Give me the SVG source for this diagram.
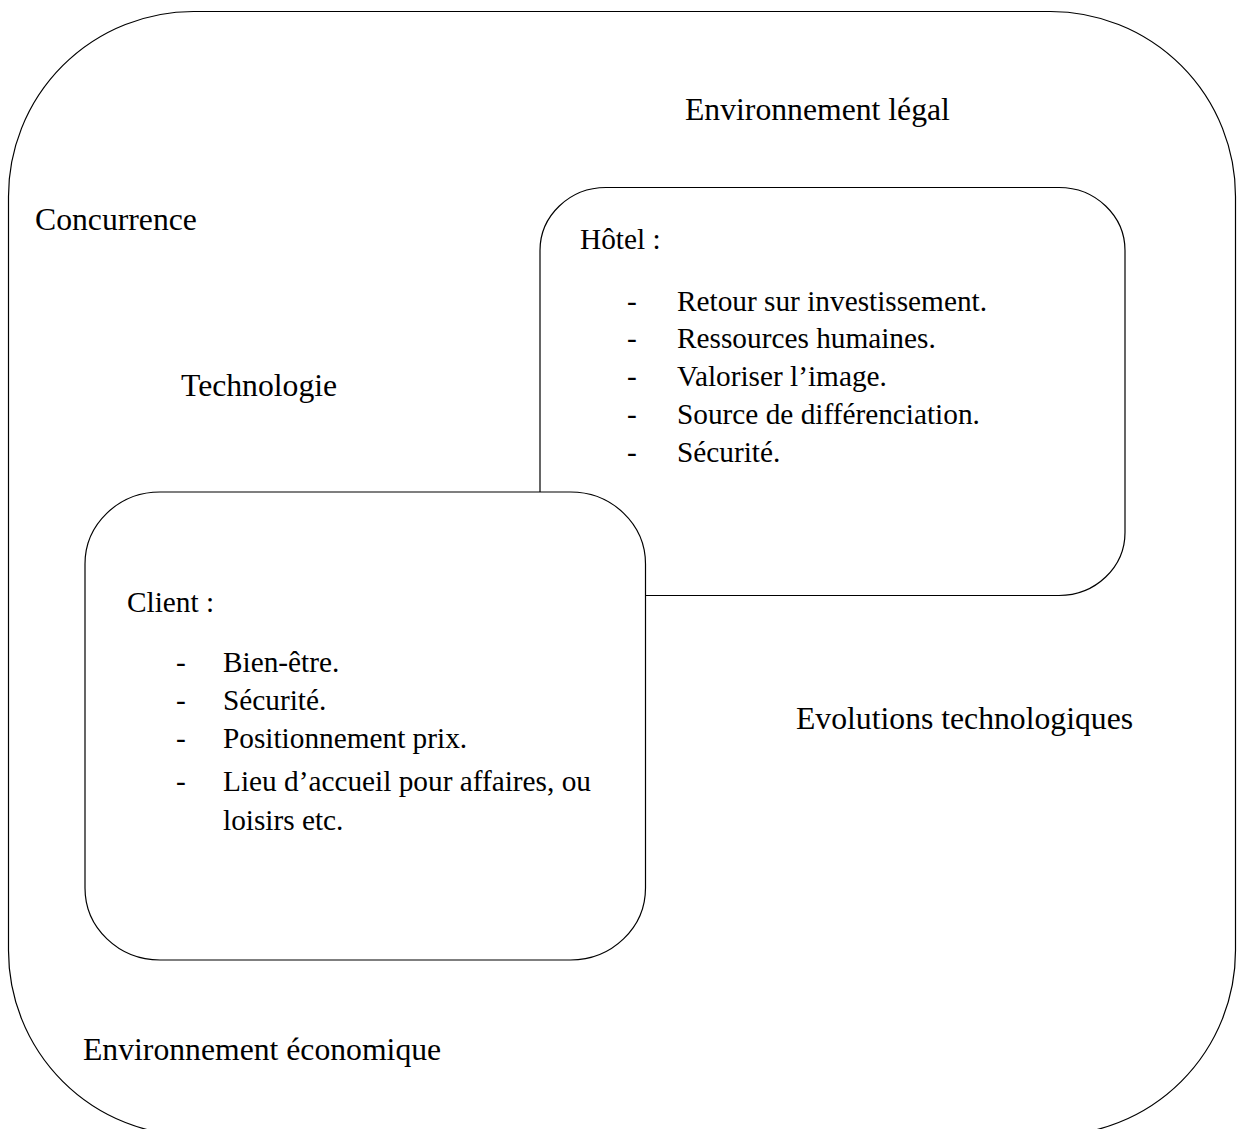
<svg xmlns="http://www.w3.org/2000/svg" width="1239" height="1129" viewBox="0 0 1239 1129">
  <style>
    .frame { fill: #ffffff; stroke: #000000; stroke-width: 1.2; }
    .env { font-family: "Liberation Serif", "Times New Roman", serif; font-size: 31.7px; fill: #000000; }
    .item { font-family: "Liberation Serif", "Times New Roman", serif; font-size: 29.3px; fill: #000000; }
  </style>
  <rect width="1239" height="1129" fill="#ffffff"/>

  <!-- outer environment boundary (runs past the bottom edge) -->
  <g id="environment">
    <rect class="frame" x="8.5" y="11.5" width="1227" height="1124" rx="185" ry="185"/>
    <text class="env" x="685" y="120">Environnement légal</text>
    <text class="env" x="35" y="230">Concurrence</text>
    <text class="env" x="181" y="396">Technologie</text>
    <text class="env" x="796" y="729">Evolutions technologiques</text>
    <text class="env" x="83" y="1060">Environnement économique</text>
  </g>

  <!-- hotel box -->
  <g id="hotel">
    <rect class="frame" x="540" y="187.5" width="585" height="408" rx="66" ry="63"/>
    <text class="item" x="580" y="249">Hôtel :</text>
    <g class="item">
      <text x="627" y="311">-</text><text x="677" y="311">Retour sur investissement.</text>
      <text x="627" y="348">-</text><text x="677" y="348">Ressources humaines.</text>
      <text x="627" y="386">-</text><text x="677" y="386">Valoriser l’image.</text>
      <text x="627" y="424">-</text><text x="677" y="424">Source de différenciation.</text>
      <text x="627" y="462">-</text><text x="677" y="462">Sécurité.</text>
    </g>
  </g>

  <!-- client box, drawn on top of the hotel box -->
  <g id="client">
    <rect class="frame" x="85" y="492" width="560.5" height="468" rx="75" ry="72"/>
    <text class="item" x="127" y="612">Client :</text>
    <g class="item">
      <text x="176" y="672">-</text><text x="223" y="672">Bien-être.</text>
      <text x="176" y="710">-</text><text x="223" y="710">Sécurité.</text>
      <text x="176" y="748">-</text><text x="223" y="748">Positionnement prix.</text>
      <text x="176" y="791">-</text><text x="223" y="791">Lieu d’accueil pour affaires, ou</text>
      <text x="223" y="830">loisirs etc.</text>
    </g>
  </g>

  <g id="connectors"/>
</svg>
